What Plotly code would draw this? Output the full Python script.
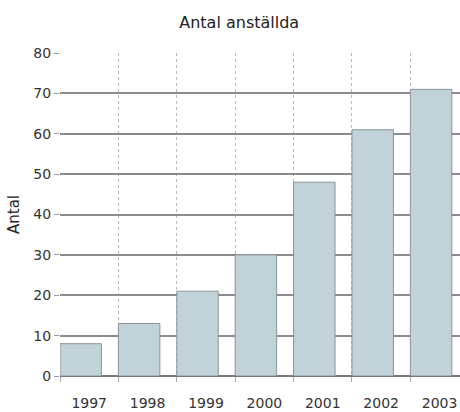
import plotly.graph_objects as go

years = ["1997", "1998", "1999", "2000", "2001", "2002", "2003"]
employees = [8, 13, 21, 30, 48, 61, 71]
y_ticks = [0, 10, 20, 30, 40, 50, 60, 70, 80]

fig = go.Figure()
fig.add_trace(go.Bar(
    x=years, y=employees,
    offset=-0.5, width=0.71,
    marker=dict(color="#c2d2d9", line=dict(color="#8a9499", width=1)),
))

font_family = "DejaVu Sans"
fig.update_layout(
    width=460, height=412,
    margin=dict(l=60, r=0, t=53, b=36),
    paper_bgcolor="white", plot_bgcolor="white",
    showlegend=False,
    title=dict(text="Antal anställda", x=0.52, xanchor="center", y=0.945, yanchor="middle",
               font=dict(family=font_family, size=16, color="#222")),
    font=dict(family=font_family, size=14, color="#333"),
)
fig.update_xaxes(
    type="category", range=[-0.5, 6.35],
    tickson="boundaries", ticks="outside", ticklen=5, tickcolor="#aaa",
    showgrid=True, gridcolor="#bbbbbb", griddash="dot", gridwidth=1,
    ticklabelstandoff=17,
    tickfont=dict(family=font_family, size=14, color="#333"),
    showline=False, zeroline=False,
)
fig.update_yaxes(
    range=[0, 80], tickvals=y_ticks,
    showgrid=True, gridcolor="#8c8c8c", gridwidth=2,
    ticks="outside", ticklen=5, tickcolor="#999",
    zeroline=True, zerolinecolor="#777", zerolinewidth=2,
    title=dict(text="Antal", font=dict(family=font_family, size=15, color="#222"), standoff=10),
    tickfont=dict(family=font_family, size=14, color="#333"),
    showline=False,
)
fig.write_html("out.html")
